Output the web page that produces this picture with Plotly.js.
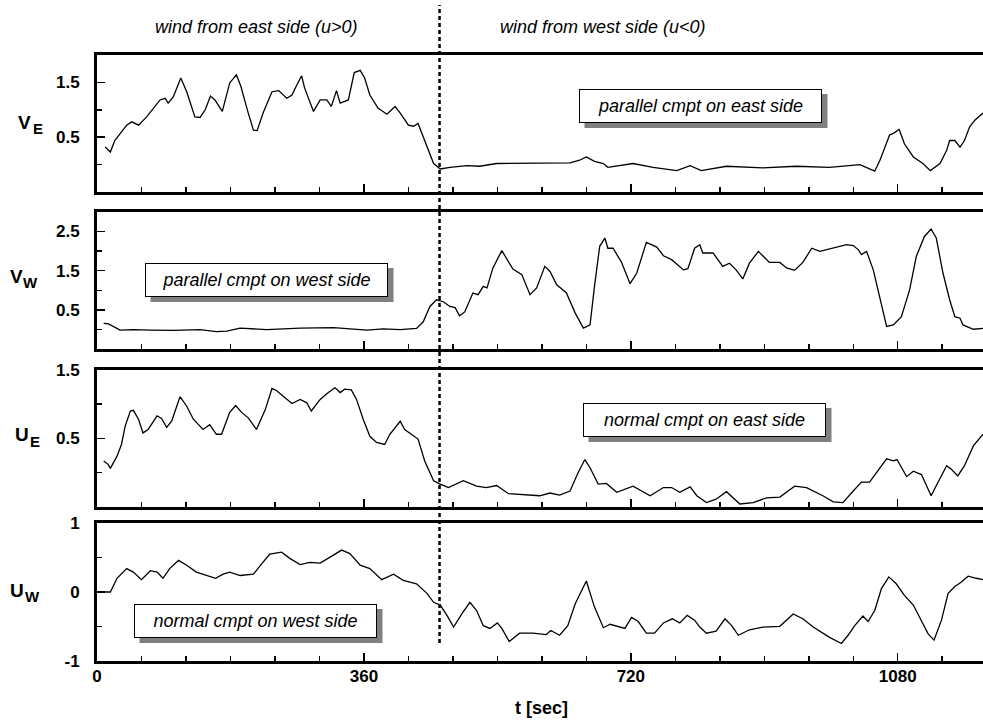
<!DOCTYPE html>
<html>
<head>
<meta charset="utf-8">
<script src="https://cdn.plot.ly/plotly-3.0.1.min.js"></script>
<style>html,body{margin:0;padding:0;background:#fff;}#chart{width:983px;height:721px;}</style>
</head>
<body>
<div id="chart"></div>
<script>
// ---- data (time in seconds) ----
const tVE = [11,18,24,31,40,47,56,67,78,85,92,96,103,113,121,132,139,146,153,159,169,179,188,194,204,211,216,224,236,245,256,263,269,276,280,292,301,310,316,323,328,339,347,355,361,368,379,391,402,409,420,427,433,445,454,463,476,499,516,539,561,606,638,651,660,671,683,689,723,750,782,800,815,849,898,943,988,1029,1049,1056,1069,1074,1082,1089,1101,1114,1124,1137,1146,1150,1157,1164,1170,1177,1184,1195];
const vE = [0.32,0.23,0.44,0.57,0.72,0.78,0.72,0.87,1.06,1.18,1.21,1.12,1.24,1.58,1.33,0.87,0.86,1.0,1.25,1.18,0.97,1.49,1.64,1.43,0.94,0.63,0.62,0.94,1.33,1.35,1.21,1.27,1.44,1.62,1.40,0.97,1.18,1.18,1.06,1.35,1.12,1.18,1.68,1.72,1.58,1.27,1.03,0.92,1.06,0.94,0.72,0.70,0.75,0.32,0.02,-0.08,-0.05,-0.02,-0.03,0.02,0.02,0.02,0.03,0.08,0.14,0.06,0.02,-0.05,0.02,-0.05,-0.11,-0.02,-0.11,-0.03,-0.06,-0.03,-0.05,0.0,-0.12,0.08,0.54,0.57,0.64,0.38,0.14,0.02,-0.11,0.02,0.26,0.44,0.44,0.32,0.44,0.69,0.81,0.94];

const tVW = [9,15,31,49,72,103,139,161,175,193,229,274,319,364,386,409,431,440,449,458,467,476,483,489,496,507,514,521,526,534,546,561,573,584,593,604,611,620,633,645,656,665,671,678,685,689,696,707,719,728,741,755,764,775,791,797,806,813,817,831,844,853,862,871,880,892,907,921,930,941,952,964,975,993,1011,1020,1027,1031,1038,1047,1056,1065,1074,1085,1096,1105,1116,1125,1132,1141,1150,1157,1164,1168,1182,1195];
const vW = [0.16,0.15,-0.01,0,-0.01,-0.02,0,-0.05,-0.04,0.04,0,0.04,0.05,-0.01,0.02,0,0.03,0.20,0.59,0.76,0.71,0.59,0.56,0.35,0.45,0.93,0.89,1.10,1.06,1.57,2.01,1.54,1.40,0.89,1.06,1.61,1.48,1.14,0.94,0.42,0.04,0.12,1.10,2.12,2.33,2.07,2.07,1.73,1.17,1.44,2.22,2.10,1.88,1.78,1.52,1.55,2.07,2.16,1.95,1.95,1.61,1.69,1.52,1.29,1.69,1.99,1.71,1.71,1.57,1.51,1.71,2.07,1.99,2.07,2.16,2.14,2.03,1.91,1.99,1.52,0.76,0.08,0.12,0.33,1.01,1.86,2.37,2.56,2.33,1.44,0.76,0.33,0.29,0.12,0.01,0.03];

const tUE = [9,15,18,27,33,38,45,49,56,62,69,81,87,94,101,112,121,130,143,152,161,168,179,187,195,204,215,227,236,242,254,263,274,283,289,301,312,321,328,334,343,350,359,368,377,388,395,409,415,427,433,442,454,463,474,494,512,525,539,555,575,597,611,624,638,649,658,665,676,687,701,723,746,764,775,786,800,809,822,835,849,867,885,903,921,941,957,979,993,1006,1020,1031,1042,1053,1065,1074,1079,1092,1101,1112,1125,1134,1146,1152,1161,1170,1182,1195];
const uE = [0.17,0.12,0.06,0.24,0.41,0.68,0.90,0.91,0.78,0.58,0.63,0.83,0.79,0.66,0.76,1.11,0.97,0.78,0.63,0.70,0.56,0.56,0.88,0.98,0.88,0.80,0.63,0.92,1.23,1.20,1.09,1.01,1.07,1.02,0.90,1.07,1.17,1.24,1.17,1.22,1.21,1.07,0.78,0.53,0.44,0.41,0.56,0.75,0.63,0.53,0.49,0.17,-0.12,-0.17,-0.22,-0.12,-0.20,-0.22,-0.19,-0.31,-0.32,-0.34,-0.30,-0.33,-0.27,0,0.19,0.07,-0.17,-0.16,-0.29,-0.20,-0.34,-0.22,-0.22,-0.29,-0.21,-0.34,-0.44,-0.39,-0.28,-0.46,-0.44,-0.37,-0.36,-0.20,-0.22,-0.34,-0.43,-0.44,-0.27,-0.14,-0.14,0.02,0.20,0.17,0.19,-0.06,0.02,-0.03,-0.34,-0.15,0.10,0.05,-0.05,0.10,0.39,0.56];

const tUW = [9,18,27,40,49,60,72,81,89,98,110,121,134,148,160,170,179,193,211,222,233,249,260,274,287,301,314,330,341,355,368,384,400,413,431,445,454,463,472,481,492,503,512,521,530,540,546,556,570,588,606,612,624,635,645,660,671,683,692,712,721,730,741,752,764,776,786,796,806,813,822,835,847,856,865,880,898,921,939,952,966,988,1004,1013,1022,1033,1040,1049,1058,1068,1078,1089,1101,1110,1121,1129,1139,1148,1157,1164,1175,1186,1195];
const uW = [0,0,0.20,0.34,0.29,0.18,0.31,0.29,0.20,0.34,0.46,0.39,0.29,0.24,0.20,0.26,0.29,0.24,0.26,0.41,0.55,0.58,0.49,0.40,0.43,0.42,0.51,0.61,0.56,0.39,0.34,0.18,0.26,0.17,0.12,-0.02,-0.15,-0.19,-0.34,-0.51,-0.32,-0.15,-0.27,-0.49,-0.53,-0.45,-0.53,-0.72,-0.60,-0.60,-0.62,-0.56,-0.63,-0.49,-0.17,0.16,-0.22,-0.52,-0.47,-0.53,-0.37,-0.43,-0.60,-0.60,-0.45,-0.39,-0.45,-0.34,-0.41,-0.51,-0.60,-0.57,-0.39,-0.49,-0.63,-0.55,-0.51,-0.50,-0.32,-0.39,-0.51,-0.66,-0.75,-0.63,-0.49,-0.35,-0.43,-0.27,0.05,0.22,0.12,-0.05,-0.19,-0.39,-0.61,-0.70,-0.41,-0.02,0.08,0.13,0.23,0.20,0.18];

// tick labels
const xTickVals = [0, 360, 720, 1080];
const xTickText = ['0', '360', '720', '1080'];
const veTicks = [0.5, 1.5], veMinor = [0, 1];
const vwTicks = [0.5, 1.5, 2.5], vwMinor = [0, 1, 2];
const ueTicks = [0.5, 1.5], ueMinor = [0, 1];
const uwTicks = [-1, 0, 1], uwMinor = [-0.5, 0.5];
const tSwitch = 462;

// ---- layout helpers ----
const W = 983, H = 721;
const FONT = 'Liberation Sans, Arial, Helvetica, sans-serif';
const px = v => v / W;
const py = v => 1 - v / H;
const xDom = [97 / W, 1];

function xax(anchor, labels) {
  return {
    anchor: anchor, domain: xDom, range: [0, 1195],
    showline: true, linewidth: 3, linecolor: 'black', mirror: true,
    ticks: 'inside', ticklen: 8, tickwidth: 1.5, tickcolor: 'black',
    tickmode: 'array', tickvals: xTickVals, ticktext: xTickText,
    minor: {tickmode: 'linear', tick0: 0, dtick: 60, ticks: 'inside', ticklen: 5, tickwidth: 1.5, tickcolor: 'black', showgrid: false},
    showgrid: false, zeroline: false, showticklabels: labels,
    tickfont: {family: FONT, size: 17, color: 'black', weight: 'bold'},
    ticklabelstandoff: -2
  };
}
function yax(anchor, dom, range, tv, mv) {
  return {
    anchor: anchor, domain: dom, range: range,
    showline: true, linewidth: 3, linecolor: 'black', mirror: false,
    ticks: 'inside', ticklen: 8, tickwidth: 1.5, tickcolor: 'black',
    tickmode: 'array', tickvals: tv, ticktext: tv.map(v => String(v)),
    minor: {tickmode: 'array', tickvals: mv, ticks: 'inside', ticklen: 5, tickwidth: 1.5, tickcolor: 'black', showgrid: false},
    showgrid: false, zeroline: false,
    tickfont: {family: FONT, size: 17, color: 'black', weight: 'bold'},
    ticklabelstandoff: 11
  };
}

const line = {color: 'black', width: 1.3};
const data = [
  {x: tVE, y: vE, xaxis: 'x', yaxis: 'y', mode: 'lines', line: line},
  {x: tVW, y: vW, xaxis: 'x2', yaxis: 'y2', mode: 'lines', line: line},
  {x: tUE, y: uE, xaxis: 'x3', yaxis: 'y3', mode: 'lines', line: line},
  {x: tUW, y: uW, xaxis: 'x4', yaxis: 'y4', mode: 'lines', line: line}
];

const BW = 243, BH = 34;
const boxes = [
  ['parallel cmpt on east side', 700, 106],
  ['parallel cmpt on west side', 266, 280],
  ['normal cmpt on east side', 704, 420],
  ['normal cmpt on west side', 255, 621]
];
const shadowShapes = boxes.map(b => ({
  type: 'rect', xref: 'paper', yref: 'paper', layer: 'above',
  x0: px(b[1] - BW / 2 + 6), x1: px(b[1] + BW / 2 + 6),
  y0: py(b[2] + BH / 2 + 5), y1: py(b[2] - BH / 2 + 5),
  fillcolor: '#808080', line: {width: 0}
}));
const boxAnns = boxes.map(b => ({
  xref: 'paper', yref: 'paper', x: px(b[1]), y: py(b[2]), xanchor: 'center', yanchor: 'middle',
  text: b[0], showarrow: false, width: BW - 2, height: BH - 2, borderpad: 0, borderwidth: 1,
  bgcolor: 'white', bordercolor: 'black',
  font: {family: FONT, size: 18, color: 'black', style: 'italic'}
}));

// axis symbols: [main letter, subscript, left px, main centre y, sub left px, sub centre y]
const symbols = [
  ['V', 'E', 17, 122.5, 32, 128],
  ['V', 'W', 9, 276.5, 22, 282.5],
  ['U', 'E', 14, 435, 29, 441.5],
  ['U', 'W', 9, 590, 24, 596.5]
];
const symAnns = [];
symbols.forEach(s => {
  symAnns.push({xref: 'paper', yref: 'paper', x: px(s[2]), y: py(s[3]), xanchor: 'left', yanchor: 'middle',
    text: '<b>' + s[0] + '</b>', showarrow: false, borderpad: 0, font: {family: FONT, size: 19, color: 'black'}});
  symAnns.push({xref: 'paper', yref: 'paper', x: px(s[4]), y: py(s[5]), xanchor: 'left', yanchor: 'middle',
    text: '<b>' + s[1] + '</b>', showarrow: false, borderpad: 0, font: {family: FONT, size: 15, color: 'black'}});
});

function ital(text, cx, cy) {
  return {xref: 'paper', yref: 'paper', x: px(cx), y: py(cy), xanchor: 'center', yanchor: 'middle',
    text: text, showarrow: false, font: {family: FONT, size: 18, color: 'black', style: 'italic'}};
}

const annotations = [].concat(
  [ital('wind from east side (u&gt;0)', 256, 27), ital('wind from west side (u&lt;0)', 603, 27)],
  symAnns,
  boxAnns,
  [{xref: 'paper', yref: 'paper', x: px(541), y: py(708), xanchor: 'center', yanchor: 'middle',
    text: '<b>t [sec]</b>', showarrow: false, font: {family: FONT, size: 18, color: 'black'}}]
);

const layout = {
  width: W, height: H, margin: {l: 0, r: 0, t: 0, b: 0},
  paper_bgcolor: 'white', plot_bgcolor: 'white', showlegend: false,
  xaxis: xax('y', false),
  xaxis2: xax('y2', false),
  xaxis3: xax('y3', false),
  xaxis4: xax('y4', true),
  yaxis: yax('x', [py(192), py(55)], [-0.5, 2.0], veTicks, veMinor),
  yaxis2: yax('x2', [py(349.3), py(211.7)], [-0.5, 3.0], vwTicks, vwMinor),
  yaxis3: yax('x3', [py(506.7), py(370)], [-0.5, 1.5], ueTicks, ueMinor),
  yaxis4: yax('x4', [py(660.7), py(523.3)], [-1, 1], uwTicks, uwMinor),
  shapes: [{type: 'line', xref: 'x4', yref: 'paper', x0: tSwitch, x1: tSwitch, y0: py(643), y1: py(5),
    line: {color: 'black', width: 2.5, dash: '4px,3px'}, layer: 'above'}].concat(shadowShapes),
  annotations: annotations
};

Plotly.newPlot('chart', data, layout, {displayModeBar: false, staticPlot: true});
</script>
</body>
</html>
